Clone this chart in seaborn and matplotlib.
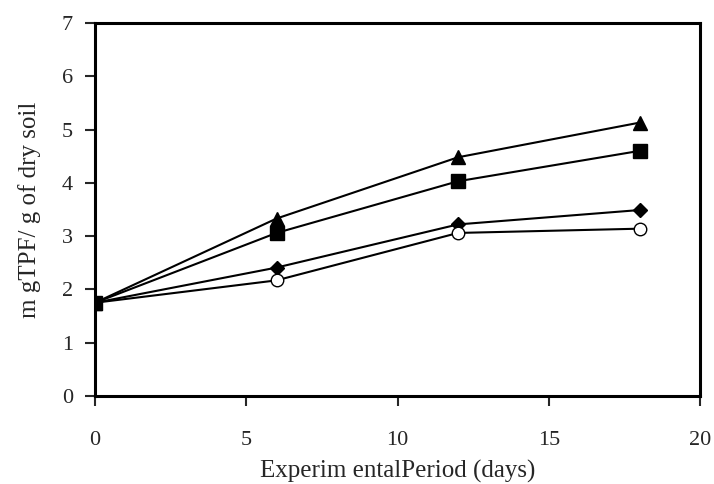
import matplotlib
matplotlib.use('Agg')
import matplotlib.pyplot as plt
import pandas as pd
import seaborn as sns

# data
days = [0, 6, 12, 18]
triangle_vals = [1.75, 3.33, 4.48, 5.13]
diamond_vals = [1.75, 2.41, 3.22, 3.49]
circle_vals = [1.75, 2.17, 3.06, 3.14]
square_vals = [1.75, 3.06, 4.03, 4.60]

x_ticks = [0, 5, 10, 15, 20]
y_ticks = [0, 1, 2, 3, 4, 5, 6, 7]

sns.set_style('white')
plt.rcParams['font.family'] = ['Liberation Serif', 'DejaVu Serif']

fig = plt.figure(figsize=(7.14, 4.84), dpi=100)
ax = fig.add_axes([95 / 714, 1 - 396 / 484, 605 / 714, 373 / 484])

series = [
    (triangle_vals, '^', 'black', 10),
    (diamond_vals, 'D', 'black', 7.5),
    (circle_vals, 'o', 'white', 9),
    (square_vals, 's', 'black', 10),
]
for vals, mk, fc, ms in series:
    df = pd.DataFrame({'day': days, 'val': vals})
    sns.lineplot(data=df, x='day', y='val', ax=ax, color='black', lw=1.5,
                 marker=mk, markersize=ms, markerfacecolor=fc,
                 markeredgecolor='black', markeredgewidth=1.0)

ax.set_xlim(0, 20)
ax.set_ylim(0, 7)
ax.set_xticks(x_ticks)
ax.set_yticks(y_ticks)
for s in ax.spines.values():
    s.set_linewidth(2.2)
    s.set_color('black')
ax.tick_params(direction='out', length=7, width=1.5, labelsize=16, pad=9,
               bottom=True, left=True)
ax.tick_params(axis='x', pad=18)
ax.set_xlabel('Experim entalPeriod (days)', fontsize=18, labelpad=7)
ax.set_ylabel('m gTPF/ g of dry soil', fontsize=18, labelpad=15)

fig.savefig('out.png', dpi=100)
